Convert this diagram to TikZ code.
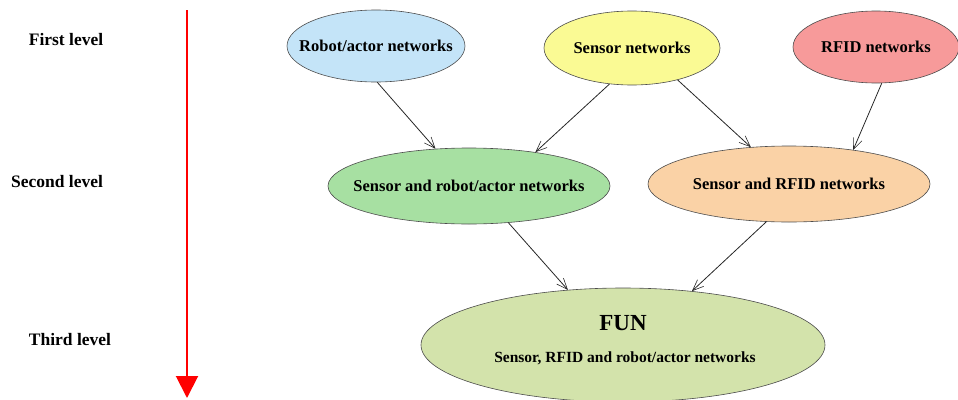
\documentclass[tikz,border=0pt]{standalone}
\usepackage{fontspec}
\setmainfont{Liberation Serif}
\usetikzlibrary{shapes.geometric,arrows.meta}
\definecolor{cblue}{HTML}{C4E4F8}
\definecolor{cyellow}{HTML}{FAFA94}
\definecolor{cred}{HTML}{F79A9A}
\definecolor{cgreen}{HTML}{A7E0A2}
\definecolor{corange}{HTML}{FAD2A6}
\definecolor{colive}{HTML}{D3E3AB}
\newcommand{\zw}[1]{\makebox[0pt]{#1}}
\begin{document}
\begin{tikzpicture}[x=1pt,y=-1pt,
  el/.style={ellipse,draw=black!70,line width=0.6pt,inner sep=0pt,font=\fontsize{16.5}{18}\selectfont\bfseries},
  lvl/.style={font=\fontsize{17.5}{19}\selectfont\bfseries},
  conn/.style={draw=black!85,line width=0.8pt,-{Straight Barb[length=11pt,width=9pt,line width=0.6pt]}}]
\useasboundingbox (0,0) rectangle (958,399);
% level labels
\node[lvl] (l1) at (66,40) {First level};
\node[lvl] (l2) at (57,182) {Second level};
\node[lvl] (l3) at (70,340) {Third level};
% red arrow
\coordinate (rtop) at (187,10);
\coordinate (rbot) at (187,398);
\draw[red,line width=2pt,-{Triangle[length=22pt,width=22pt]}] (rtop) -- (rbot);
% first level
\node[el,fill=cblue,minimum width=178pt,minimum height=72pt] (rob) at (376,46) {\zw{Robot/actor networks}};
\node[el,fill=cyellow,minimum width=176pt,minimum height=74pt] (sen) at (632,48) {\zw{Sensor networks}};
\node[el,fill=cred,minimum width=166pt,minimum height=72pt] (rfid) at (876,47) {\zw{RFID networks}};
% second level
\node[el,fill=cgreen,minimum width=282pt,minimum height=76pt] (sr) at (469,186) {\zw{Sensor and robot/actor networks}};
\node[el,fill=corange,minimum width=282pt,minimum height=76pt] (srf) at (789,184) {\zw{Sensor and RFID networks}};
% third level
\node[el,fill=colive,minimum width=404pt,minimum height=114pt] (fun) at (623,345) {};
\node[font=\fontsize{23}{25}\selectfont\bfseries] (funt) at (623,323) {FUN};
\node[font=\fontsize{15.5}{17}\selectfont\bfseries] (funs) at (625,358) {Sensor, RFID and robot/actor networks};
% connectors
\draw[conn] (rob.-88) -- (sr.132);
\draw[conn] (sen.-122) -- (sr.27);
\draw[conn] (sen.-35) -- (srf.136);
\draw[conn] (rfid.-81) -- (srf.28);
\draw[conn] (sr.-43) -- (fun.135);
\draw[conn] (srf.-121) -- (fun.38);
\end{tikzpicture}
\end{document}
